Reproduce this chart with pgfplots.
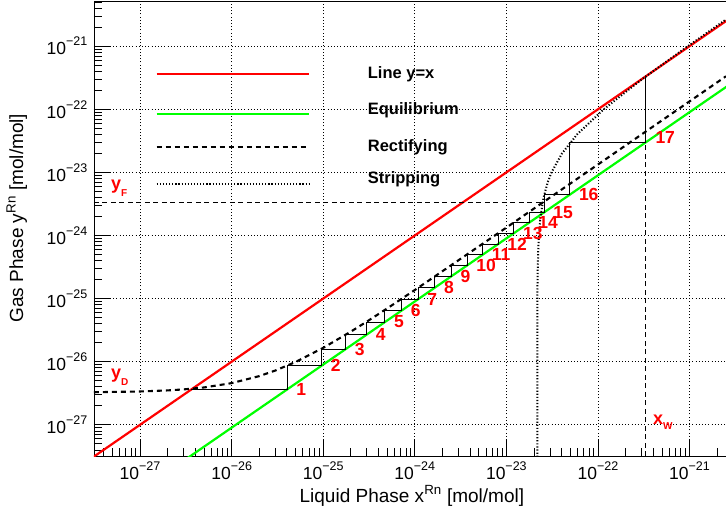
\documentclass[border=0pt]{standalone}
\usepackage{pgfplots}
\pgfplotsset{compat=1.18}
\usepackage{fontspec}
\setmainfont{Liberation Sans}
\definecolor{rootred}{RGB}{255,0,0}
\definecolor{rootgreen}{RGB}{0,255,0}
\newcommand{\ten}[1]{10\raisebox{9bp}{\fontsize{12.5bp}{12.5bp}\selectfont −#1}}
\newcommand{\sublab}[3]{{\fontsize{18bp}{18bp}\selectfont\bfseries #1}\raisebox{-#3}{\fontsize{10bp}{10bp}\selectfont\bfseries #2}}
\begin{document}
\begin{tikzpicture}
\begin{axis}[
  scale only axis, width=632bp, height=455bp,
  xmode=log, ymode=log,
  xmin=3.14e-28, xmax=2.5e-21, ymin=3.2e-28, ymax=5.2e-21,
  xtick={1e-27,1e-26,1e-25,1e-24,1e-23,1e-22,1e-21},
  xticklabels={\ten{27},\ten{26},\ten{25},\ten{24},\ten{23},\ten{22},\ten{21}},
  ytick={1e-27,1e-26,1e-25,1e-24,1e-23,1e-22,1e-21},
  yticklabels={\ten{27},\ten{26},\ten{25},\ten{24},\ten{23},\ten{22},\ten{21}},
  minor xtick={4e-28,5e-28,6e-28,7e-28,8e-28,9e-28,
    2e-27,3e-27,4e-27,5e-27,6e-27,7e-27,8e-27,9e-27,
    2e-26,3e-26,4e-26,5e-26,6e-26,7e-26,8e-26,9e-26,
    2e-25,3e-25,4e-25,5e-25,6e-25,7e-25,8e-25,9e-25,
    2e-24,3e-24,4e-24,5e-24,6e-24,7e-24,8e-24,9e-24,
    2e-23,3e-23,4e-23,5e-23,6e-23,7e-23,8e-23,9e-23,
    2e-22,3e-22,4e-22,5e-22,6e-22,7e-22,8e-22,9e-22,2e-21},
  minor ytick={4e-28,5e-28,6e-28,7e-28,8e-28,9e-28,
    2e-27,3e-27,4e-27,5e-27,6e-27,7e-27,8e-27,9e-27,
    2e-26,3e-26,4e-26,5e-26,6e-26,7e-26,8e-26,9e-26,
    2e-25,3e-25,4e-25,5e-25,6e-25,7e-25,8e-25,9e-25,
    2e-24,3e-24,4e-24,5e-24,6e-24,7e-24,8e-24,9e-24,
    2e-23,3e-23,4e-23,5e-23,6e-23,7e-23,8e-23,9e-23,
    2e-22,3e-22,4e-22,5e-22,6e-22,7e-22,8e-22,9e-22,
    2e-21,3e-21,4e-21,5e-21},
  tick pos=left, tick align=inside,
  major tick length=16bp, minor tick length=8bp,
  tick style={black, line width=0.8bp},
  grid=major,
  major grid style={black, line width=0.7bp, dash pattern=on 1bp off 2.2bp},
  axis line style={black, line width=0.9bp},
  ticklabel style={font=\fontsize{17.5bp}{17.5bp}\selectfont, inner sep=0pt},
  yticklabel style={xshift=-6.5bp},
  xticklabel style={yshift=-6bp},
  xlabel={Liquid Phase x\textsuperscript{Rn} [mol/mol]},
  ylabel={Gas Phase y\textsuperscript{Rn} [mol/mol]},
  label style={font=\fontsize{19bp}{19bp}\selectfont},
  xlabel style={at={(axis description cs:0.503,-0.088)}, anchor=center},
  ylabel style={at={(axis description cs:-0.122,0.523)}, anchor=center, rotate=0},
  clip=true,
]
% line y = x
\addplot[rootred, line width=2.2bp] coordinates {(1e-29,1e-29) (1e-20,1e-20)};
% equilibrium
\addplot[rootgreen, line width=2.2bp] coordinates {(1e-28,9e-30) (1e-20,9e-22)};
% rectifying line
\addplot[black, line width=2.1bp, dash pattern=on 5bp off 4bp] table {
3.14e-28 3.282e-27
1e-27 3.373e-27
2e-27 3.507e-27
3e-27 3.640e-27
5e-27 3.907e-27
1e-26 4.574e-27
2e-26 5.908e-27
3e-26 7.242e-27
5e-26 9.910e-27
1e-25 1.658e-26
2e-25 2.992e-26
3e-25 4.326e-26
5e-25 6.994e-26
1e-24 1.366e-25
1e-23 1.3343e-24
1e-22 1.334e-23
2.5e-21 3.335e-22
};
% stripping line
\addplot[black, line width=2bp, dash pattern=on 1.2bp off 1.9bp] table {
2.17400e-23 1e-28
2.17409e-23 1e-26
2.1749e-23 1e-25
2.2021e-23 3e-25
2.2302e-23 6e-25
2.2677e-23 1e-24
2.3614e-23 2e-24
2.5489e-23 4e-24
2.830e-23 7e-24
3.111e-23 1e-23
4.048e-23 2e-23
5.923e-23 4e-23
1.1546e-22 1e-22
3.029e-22 3e-22
9.589e-22 1e-21
2.5e-21 2.644e-21
};
% feed line y_F
\addplot[black, line width=1bp, dash pattern=on 5bp off 3.5bp] coordinates {(3.14e-28,3.3e-24) (2.5e-23,3.3e-24)};
% x_W line
\addplot[black, line width=1bp, dash pattern=on 5bp off 3.5bp] coordinates {(3.29e-22,3.2e-28) (3.29e-22,2.961e-23)};
% staircase
\addplot[black, line width=0.9bp] coordinates {
(3.645e-27,3.645e-27)
(4.05e-26,3.645e-27) (4.05e-26,8.64e-27)
(9.60e-26,8.64e-27) (9.60e-26,1.5795e-26)
(1.755e-25,1.5795e-26) (1.755e-25,2.682e-26)
(2.98e-25,2.682e-26) (2.98e-25,4.248e-26)
(4.72e-25,4.248e-26) (4.72e-25,6.462e-26)
(7.18e-25,6.462e-26) (7.18e-25,9.81e-26)
(1.09e-24,9.81e-26) (1.09e-24,1.494e-25)
(1.66e-24,1.494e-25) (1.66e-24,2.268e-25)
(2.52e-24,2.268e-25) (2.52e-24,3.357e-25)
(3.73e-24,3.357e-25) (3.73e-24,4.95e-25)
(5.50e-24,4.95e-25) (5.50e-24,7.326e-25)
(8.14e-24,7.326e-25) (8.14e-24,1.089e-24)
(1.21e-23,1.089e-24) (1.21e-23,1.593e-24)
(1.77e-23,1.593e-24) (1.77e-23,2.331e-24)
(2.59e-23,2.331e-24) (2.59e-23,4.437e-24)
(4.93e-23,4.437e-24) (4.93e-23,2.961e-23)
(3.29e-22,2.961e-23) (3.29e-22,3.29e-22)
};
% stage labels
\begin{scope}[every node/.style={text=rootred, font=\fontsize{17.5bp}{17.5bp}\selectfont\bfseries, inner sep=0pt, anchor=west, xshift=9bp}]
\node at (axis cs:4.05e-26,3.645e-27) {1};
\node at (axis cs:9.60e-26,8.64e-27) {2};
\node at (axis cs:1.755e-25,1.5795e-26) {3};
\node at (axis cs:2.98e-25,2.682e-26) {4};
\node at (axis cs:4.72e-25,4.248e-26) {5};
\node at (axis cs:7.18e-25,6.462e-26) {6};
\node at (axis cs:1.09e-24,9.81e-26) {7};
\node at (axis cs:1.66e-24,1.494e-25) {8};
\node at (axis cs:2.52e-24,2.268e-25) {9};
\node at (axis cs:3.73e-24,3.357e-25) {10};
\node at (axis cs:5.50e-24,4.95e-25) {11};
\node at (axis cs:8.14e-24,7.326e-25) {12};
\node at (axis cs:1.21e-23,1.089e-24) {13};
\node at (axis cs:1.77e-23,1.593e-24) {14};
\node at (axis cs:2.59e-23,2.331e-24) {15};
\node at (axis cs:4.93e-23,4.437e-24) {16};
\node[anchor=south west, xshift=1bp, yshift=-1bp] at (axis cs:3.29e-22,2.961e-23) {17};
\end{scope}
\end{axis}
% annotations (axis box: 632 x 455 bp, origin at its lower left)
\node[text=rootred, anchor=base west, inner sep=0pt] at (17bp,266bp) {\sublab{y}{F}{6.5bp}};
\node[text=rootred, anchor=base west, inner sep=0pt] at (17bp,77.5bp) {\sublab{y}{D}{7bp}};
\node[text=rootred, anchor=base west, inner sep=0pt] at (559bp,32bp) {\sublab{x}{W}{5bp}};
% legend
\draw[rootred, line width=2.2bp] (62.7bp,382bp) -- (215.3bp,382bp);
\draw[rootgreen, line width=2.2bp] (62.7bp,341.7bp) -- (215.3bp,341.7bp);
\draw[black, line width=2.1bp, dash pattern=on 5bp off 4bp] (62.7bp,309.3bp) -- (215.3bp,309.3bp);
\draw[black, line width=2bp, dash pattern=on 1.2bp off 1.9bp] (62.7bp,272bp) -- (215.3bp,272bp);
\begin{scope}[every node/.style={anchor=west, inner sep=0pt, font=\fontsize{16.5bp}{16.5bp}\selectfont\bfseries}]
\node at (273.7bp,382bp) {Line y=x};
\node at (273.7bp,346bp) {Equilibrium};
\node at (273.7bp,308.7bp) {Rectifying};
\node at (273.7bp,276.7bp) {Stripping};
\end{scope}
\pgfresetboundingbox
\useasboundingbox (-94bp,-59bp) rectangle (632bp,456bp);
\end{tikzpicture}
\end{document}
